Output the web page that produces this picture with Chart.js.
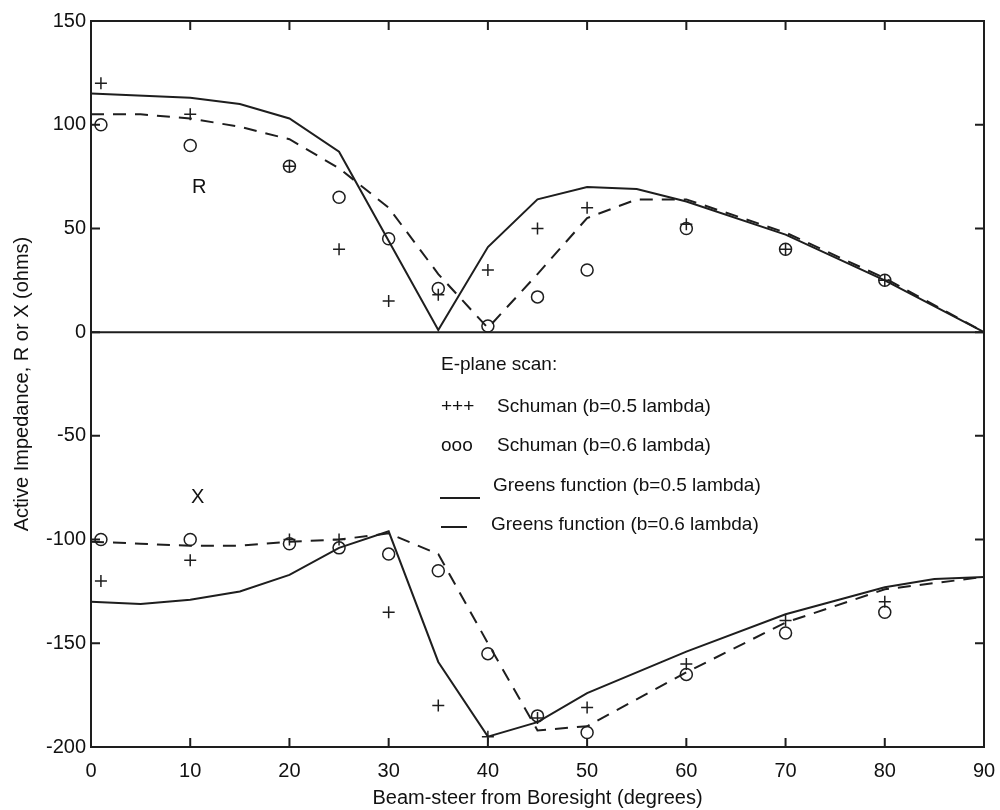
<!DOCTYPE html>
<html>
<head>
<meta charset="utf-8">
<script src="https://cdn.jsdelivr.net/npm/chart.js@4.4.1/dist/chart.umd.min.js"></script>
<style>
  html, body { margin: 0; padding: 0; background: #fff; }
  #wrap { width: 1000px; height: 810px; position: relative; }
</style>
</head>
<body>
<div id="wrap"><canvas id="chart" width="1000" height="810"></canvas></div>
<script>
// beam-steer angles (degrees) and values
const xTicks = [0, 10, 20, 30, 40, 50, 60, 70, 80, 90];
const yTicks = [150, 100, 50, 0, -50, -100, -150, -200];

// Greens function curves, resistance (R)
const rGreen05Ang = [0, 10, 15, 20, 25, 35, 40, 45, 50, 55, 60, 70, 80, 90];
const rGreen05Val = [115, 113, 110, 103, 87, 1, 41, 64, 70, 69, 63, 47, 25, 0];
const rGreen06Ang = [0, 5, 10, 15, 20, 25, 30, 35, 40, 45, 50, 55, 60, 70, 80, 90];
const rGreen06Val = [105, 105, 103, 99, 93, 79, 60, 28, 2, 28, 55, 64, 64, 48, 26, 0];

// Greens function curves, reactance (X)
const xGreen05Ang = [0, 5, 10, 15, 20, 25, 30, 35, 40, 45, 50, 60, 70, 80, 85, 90];
const xGreen05Val = [-130, -131, -129, -125, -117, -104, -96, -159, -195, -188, -174, -154, -136, -123, -119, -118];
const xGreen06Ang = [0, 5, 10, 15, 20, 25, 30, 35, 40, 45, 50, 60, 70, 80, 90];
const xGreen06Val = [-101, -102, -103, -103, -101, -100, -97, -107, -150, -192, -190, -164, -140, -124, -118];

// Schuman measured points
const schumanAng = [1, 10, 20, 25, 30, 35, 40, 45, 50, 60, 70, 80];
const rSchu05 = [120, 105, 80, 40, 15, 18, 30, 50, 60, 52, 40, 25];
const rSchu06 = [100, 90, 80, 65, 45, 21, 3, 17, 30, 50, 40, 25];
const xSchu05 = [-120, -110, -100, -100, -135, -180, -195, -186, -181, -160, -139, -130];
const xSchu06 = [-100, -100, -102, -104, -107, -115, -155, -185, -193, -165, -145, -135];

const INK = '#1e1e1e';
const FONT = '"Liberation Sans", Arial, Helvetica, sans-serif';

const pts = (a, v) => a.map((x, i) => ({ x: x, y: v[i] }));

function lineSet(a, v, dashed) {
  return {
    data: pts(a, v), showLine: true, borderColor: INK, borderWidth: 2,
    borderDash: dashed ? [13, 9] : [], pointRadius: 0, tension: 0, fill: false
  };
}
function markSet(a, v, style) {
  return {
    data: pts(a, v), showLine: false, pointStyle: style, pointRadius: 6,
    pointBorderColor: INK, pointBackgroundColor: 'rgba(0,0,0,0)', pointBorderWidth: 1.5
  };
}

// frame, inward ticks, zero line and text notes
const framePlugin = {
  id: 'frame',
  afterDatasetsDraw(chart) {
    const { ctx, chartArea: a, scales: { x, y } } = chart;
    ctx.save();
    ctx.strokeStyle = INK;
    ctx.lineWidth = 2;
    const y0 = y.getPixelForValue(0);
    ctx.beginPath(); ctx.moveTo(a.left, y0); ctx.lineTo(a.right, y0); ctx.stroke();
    ctx.strokeRect(a.left, a.top, a.right - a.left, a.bottom - a.top);
    ctx.beginPath();
    x.ticks.forEach(t => {
      const px = x.getPixelForValue(t.value);
      ctx.moveTo(px, a.bottom); ctx.lineTo(px, a.bottom - 9);
      ctx.moveTo(px, a.top); ctx.lineTo(px, a.top + 9);
    });
    y.ticks.forEach(t => {
      const py = y.getPixelForValue(t.value);
      ctx.moveTo(a.left, py); ctx.lineTo(a.left + 9, py);
      ctx.moveTo(a.right, py); ctx.lineTo(a.right - 9, py);
    });
    ctx.stroke();

    ctx.fillStyle = '#111';
    ctx.font = '20px ' + FONT;
    ctx.textBaseline = 'middle';
    ctx.fillText('R', 192, 187);
    ctx.fillText('X', 191, 497);

    ctx.font = '19px ' + FONT;
    ctx.fillText('E-plane scan:', 441, 365);
    ctx.fillText('+++', 441, 407);
    ctx.fillText('Schuman (b=0.5 lambda)', 497, 407);
    ctx.fillText('ooo', 441, 446);
    ctx.fillText('Schuman (b=0.6 lambda)', 497, 446);
    ctx.fillText('Greens function (b=0.5 lambda)', 493, 486);
    ctx.fillText('Greens function (b=0.6 lambda)', 491, 525);
    ctx.lineWidth = 2;
    ctx.beginPath();
    ctx.moveTo(440, 498); ctx.lineTo(480, 498);
    ctx.moveTo(441, 527); ctx.lineTo(467, 527);
    ctx.stroke();
    ctx.restore();
  }
};

new Chart(document.getElementById('chart'), {
  type: 'scatter',
  data: {
    datasets: [
      lineSet(rGreen05Ang, rGreen05Val, false),
      lineSet(rGreen06Ang, rGreen06Val, true),
      lineSet(xGreen05Ang, xGreen05Val, false),
      lineSet(xGreen06Ang, xGreen06Val, true),
      markSet(schumanAng, rSchu05, 'cross'),
      markSet(schumanAng, rSchu06, 'circle'),
      markSet(schumanAng, xSchu05, 'cross'),
      markSet(schumanAng, xSchu06, 'circle')
    ]
  },
  options: {
    responsive: false,
    animation: false,
    layout: { padding: { left: 0, top: 21, right: 16, bottom: 0 } },
    plugins: { legend: { display: false }, tooltip: { enabled: false } },
    scales: {
      x: {
        type: 'linear', min: 0, max: 90,
        afterBuildTicks: s => { s.ticks = xTicks.map(v => ({ value: v })); },
        afterFit: s => { s.height = 63; s.paddingLeft = 0; s.paddingRight = 0; },
        grid: { display: false, drawTicks: false },
        border: { display: false },
        ticks: { color: '#111', padding: 12, font: { size: 20, family: FONT } },
        title: {
          display: true, text: 'Beam-steer from Boresight (degrees)', color: '#111',
          padding: { top: 0, bottom: 0 }, font: { size: 20, family: FONT }
        }
      },
      y: {
        type: 'linear', min: -200, max: 150,
        afterBuildTicks: s => { s.ticks = yTicks.map(v => ({ value: v })); },
        afterFit: s => { s.width = 91; s.paddingTop = 0; s.paddingBottom = 0; },
        grid: { display: false, drawTicks: false },
        border: { display: false },
        ticks: { color: '#111', padding: 5, font: { size: 20, family: FONT } },
        title: {
          display: true, text: 'Active Impedance, R or X (ohms)', color: '#111',
          padding: { top: 10, bottom: 0 }, font: { size: 20, family: FONT }
        }
      }
    }
  },
  plugins: [framePlugin]
});
</script>
</body>
</html>
